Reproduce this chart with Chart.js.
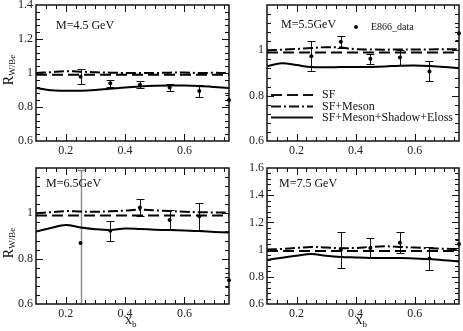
<!DOCTYPE html>
<html lang="en">
<head>
<meta charset="UTF-8">
<title>R W/Be vs x_b</title>
<script src="https://cdn.jsdelivr.net/npm/chart.js@4"></script>
<style>
  body { margin: 0; background: #fff; }
  #wrap { position: relative; width: 463px; height: 331px; }
  #wrap canvas { position: absolute; left: 0; top: 0; }
</style>
</head>
<body>
<div id="wrap">
  <canvas id="c45" width="463" height="331"></canvas>
  <canvas id="c55" width="463" height="331"></canvas>
  <canvas id="c65" width="463" height="331"></canvas>
  <canvas id="c75" width="463" height="331"></canvas>
</div>
<script>
// x grid of the model curves
const curveX = [0.1, 0.15, 0.2, 0.25, 0.3, 0.35, 0.4, 0.45, 0.5, 0.55, 0.6, 0.65, 0.7, 0.75];

// M = 4.5 GeV
const sf45    = [0.99, 0.99, 0.99, 0.99, 0.99, 0.99, 0.99, 0.99, 0.99, 0.99, 0.99, 0.99, 0.99, 0.99];
const meson45 = [1.0, 1.005, 1.01, 1.008, 1.004, 1.002, 1.0, 1.0, 1.0, 1.002, 1.003, 1.0, 1.001, 1.0];
const full45  = [0.912, 0.898, 0.896, 0.896, 0.9, 0.907, 0.915, 0.921, 0.925, 0.927, 0.926, 0.923, 0.918, 0.912];
const dataX45 = [0.25, 0.35, 0.45, 0.55, 0.65, 0.75];
const dataY45 = [0.978, 0.939, 0.931, 0.915, 0.894, 0.841];
const err45   = [0.045, 0.02, 0.02, 0.019, 0.035, 0.03];

// M = 5.5 GeV
const sf55    = [0.99, 0.99, 0.99, 0.99, 0.99, 0.99, 0.99, 0.99, 0.99, 0.99, 0.99, 0.99, 0.99, 0.99];
const meson55 = [1.0, 1.003, 1.006, 1.01, 1.014, 1.012, 1.005, 1.004, 1.003, 1.004, 1.004, 1.004, 1.005, 1.005];
const full55  = [0.93, 0.943, 0.935, 0.926, 0.925, 0.926, 0.926, 0.927, 0.929, 0.932, 0.933, 0.931, 0.927, 0.921];
const dataX55 = [0.25, 0.35, 0.45, 0.55, 0.65, 0.75];
const dataY55 = [0.974, 1.038, 0.963, 0.968, 0.907, 1.075];
const err55   = [0.066, 0.027, 0.022, 0.033, 0.044, 0.03];

// M = 6.5 GeV
const sf65    = [0.99, 0.99, 0.99, 0.99, 0.99, 0.99, 0.99, 0.99, 0.99, 0.99, 0.99, 0.99, 0.99, 0.99];
const meson65 = [1.0, 1.005, 1.01, 1.008, 1.007, 1.009, 1.012, 1.016, 1.013, 1.01, 1.007, 1.005, 1.004, 1.003];
const full65  = [0.92, 0.935, 0.949, 0.937, 0.93, 0.927, 0.933, 0.931, 0.928, 0.926, 0.924, 0.922, 0.918, 0.915];
const dataX65 = [0.25, 0.35, 0.45, 0.55, 0.65, 0.75];
const dataY65 = [0.869, 0.923, 1.026, 0.971, 0.987, 0.705];
const err65   = [0.32, 0.045, 0.037, 0.042, 0.06, 0.03];

// M = 7.5 GeV
const sf75    = [0.99, 0.99, 0.99, 0.99, 0.99, 0.99, 0.99, 0.99, 0.99, 0.99, 0.99, 0.99, 0.99, 0.99];
const meson75 = [1.0, 1.005, 1.012, 1.02, 1.015, 1.01, 1.012, 1.02, 1.024, 1.02, 1.015, 1.01, 1.006, 1.005];
const full75  = [0.924, 0.94, 0.955, 0.968, 0.955, 0.946, 0.942, 0.939, 0.939, 0.938, 0.934, 0.93, 0.922, 0.912];
const dataX75 = [0.35, 0.45, 0.55, 0.65, 0.75];
const dataY75 = [0.998, 1.012, 1.051, 0.934, 1.042];
const err75   = [0.132, 0.07, 0.075, 0.085, 0.03];

// tick labels
const xTicks = [0.2, 0.4, 0.6];
const yTicks45 = [0.6, 0.8, 1, 1.2, 1.4];
const yTicks55 = [0.6, 0.8, 1];
const yTicks65 = [0.6, 0.8, 1];
const yTicks75 = [0.6, 0.8, 1, 1.2, 1.4, 1.6];

const seriesNames = ['SF', 'SF+Meson', 'SF+Meson+Shadow+Eloss'];
const dataName = 'E866_data';

const SERIF = "'Liberation Serif', 'Times New Roman', serif";
Chart.defaults.font.family = SERIF;
Chart.defaults.font.size = 12;
Chart.defaults.color = '#222';

const dashes = [[11, 5], [10, 3, 2, 3], []];

const panels = [
  { id: 'c45', area: { l: 36, r: 229, t: 5, b: 141 }, yMin: 0.6, yMax: 1.4, yTicks: yTicks45,
    curves: [sf45, meson45, full45], px: dataX45, py: dataY45, pe: err45,
    label: 'M=4.5 GeV', labelAt: [20, 21], yTitle: 70, xTitle: false, legend: false, grayBar: -1 },
  { id: 'c55', area: { l: 267, r: 460, t: 5, b: 141 }, yMin: 0.6, yMax: 1.2, yTicks: yTicks55,
    curves: [sf55, meson55, full55], px: dataX55, py: dataY55, pe: err55,
    label: 'M=5.5GeV', labelAt: [14, 20], yTitle: null, xTitle: false, legend: true, grayBar: -1 },
  { id: 'c65', area: { l: 36, r: 229, t: 168, b: 304 }, yMin: 0.6, yMax: 1.2, yTicks: yTicks65,
    curves: [sf65, meson65, full65], px: dataX65, py: dataY65, pe: err65,
    label: 'M=6.5GeV', labelAt: [10, 16], yTitle: 243, xTitle: true, legend: false, grayBar: 0 },
  { id: 'c75', area: { l: 267, r: 460, t: 168, b: 304 }, yMin: 0.6, yMax: 1.6, yTicks: yTicks75,
    curves: [sf75, meson75, full75], px: dataX75, py: dataY75, pe: err75,
    label: 'M=7.5 GeV', labelAt: [12, 16], yTitle: null, xTitle: true, legend: false, grayBar: -1 }
];

// error bars, drawn under the curves
const errorBars = {
  id: 'errorBars',
  beforeDatasetsDraw(chart, args, opts) {
    const p = opts.panel;
    const ctx = chart.ctx, a = chart.chartArea;
    const xs = chart.scales.x, ys = chart.scales.y;
    ctx.save();
    ctx.beginPath();
    ctx.rect(a.left, a.top - 1, a.right - a.left, a.bottom - a.top + 2);
    ctx.clip();
    p.px.forEach((xv, i) => {
      const x = Math.round(xs.getPixelForValue(xv)) + 0.5;
      const y1 = Math.round(ys.getPixelForValue(p.py[i] + p.pe[i])) + 0.5;
      const y2 = Math.round(ys.getPixelForValue(p.py[i] - p.pe[i])) + 0.5;
      const gray = i === p.grayBar;
      ctx.strokeStyle = gray ? '#8a8a8a' : '#111';
      ctx.lineWidth = gray ? 1.4 : 1;
      ctx.beginPath();
      ctx.moveTo(x, y1); ctx.lineTo(x, y2);
      ctx.moveTo(x - 4, y1); ctx.lineTo(x + 4, y1);
      ctx.moveTo(x - 4, y2); ctx.lineTo(x + 4, y2);
      ctx.stroke();
    });
    ctx.restore();
  }
};

// frame, inward ticks, titles, panel label and legend
const decor = {
  id: 'decor',
  afterDraw(chart, args, opts) {
    const p = opts.panel;
    const ctx = chart.ctx, a = chart.chartArea;
    const xs = chart.scales.x, ys = chart.scales.y;
    ctx.save();
    ctx.strokeStyle = '#111';
    ctx.lineWidth = 1;
    ctx.beginPath();
    for (let k = -3; 0.2 + k * 0.2 / 6 <= 0.7501; k++) {
      const v = 0.2 + k * 0.2 / 6;
      if (v <= 0.1001 || v >= 0.7499) continue;
      const len = k % 6 === 0 ? 7 : 4;
      const x = Math.round(xs.getPixelForValue(v)) + 0.5;
      ctx.moveTo(x, a.bottom); ctx.lineTo(x, a.bottom - len);
      ctx.moveTo(x, a.top); ctx.lineTo(x, a.top + len);
    }
    for (let k = 1; p.yMin + k * 0.04 < p.yMax - 0.001; k++) {
      const v = p.yMin + k * 0.04;
      const len = k % 5 === 0 ? 7 : 4;
      const y = Math.round(ys.getPixelForValue(v)) + 0.5;
      ctx.moveTo(a.left, y); ctx.lineTo(a.left + len, y);
      ctx.moveTo(a.right, y); ctx.lineTo(a.right - len, y);
    }
    ctx.stroke();
    ctx.lineWidth = 1.5;
    ctx.strokeRect(a.left, a.top, a.right - a.left, a.bottom - a.top);

    ctx.fillStyle = '#111';
    ctx.textBaseline = 'middle';
    ctx.textAlign = 'left';
    ctx.font = '12px ' + SERIF;
    ctx.fillText(p.label, a.left + p.labelAt[0], a.top + p.labelAt[1]);

    if (p.yTitle !== null) {
      ctx.save();
      ctx.translate(9, p.yTitle);
      ctx.rotate(-Math.PI / 2);
      ctx.font = '14px ' + SERIF;
      const wR = ctx.measureText('R').width;
      ctx.font = '9px ' + SERIF;
      const wS = ctx.measureText('W/Be').width;
      const x0 = -(wR + wS) / 2;
      ctx.font = '14px ' + SERIF;
      ctx.fillText('R', x0, 0);
      ctx.font = '9px ' + SERIF;
      ctx.fillText('W/Be', x0 + wR, 4);
      ctx.restore();
    }
    if (p.xTitle) {
      const cx = (a.left + a.right) / 2 - 2;
      ctx.font = '14px ' + SERIF;
      const wx = ctx.measureText('x').width;
      ctx.fillText('x', cx - wx / 2 - 2, 320);
      ctx.font = '9px ' + SERIF;
      ctx.fillText('b', cx + wx / 2 - 2, 325);
    }
    if (p.legend) {
      const lx = a.left, ly = a.top;
      ctx.beginPath();
      ctx.arc(lx + 89, ly + 22, 2, 0, Math.PI * 2);
      ctx.fill();
      ctx.font = '10px ' + SERIF;
      ctx.fillText(dataName, lx + 104, ly + 22);
      ctx.font = '12px ' + SERIF;
      const rows = [90, 101.5, 112.5];
      ctx.lineWidth = 2;
      seriesNames.forEach((name, i) => {
        ctx.setLineDash(dashes[i]);
        ctx.beginPath();
        ctx.moveTo(lx + 4, ly + rows[i]);
        ctx.lineTo(lx + 46, ly + rows[i]);
        ctx.stroke();
        ctx.setLineDash([]);
        ctx.fillText(name, lx + 55, ly + rows[i]);
      });
    }
    ctx.restore();
  }
};

function makeChart(p) {
  const ds = p.curves.map((vals, i) => ({
    label: seriesNames[i],
    data: curveX.map((x, j) => ({ x: x, y: vals[j] })),
    borderColor: '#000',
    borderWidth: 2,
    borderDash: dashes[i],
    pointRadius: 0,
    tension: 0.35,
    fill: false
  }));
  ds.push({
    label: dataName,
    data: p.px.map((x, j) => ({ x: x, y: p.py[j] })),
    showLine: false,
    pointRadius: 2,
    pointBorderWidth: 0,
    pointBackgroundColor: '#000',
    pointBorderColor: '#000',
    clip: false
  });
  const a = p.area;
  return new Chart(document.getElementById(p.id), {
    type: 'line',
    data: { datasets: ds },
    plugins: [errorBars, decor],
    options: {
      responsive: false,
      animation: false,
      events: [],
      layout: { padding: { left: a.l - 36, right: 463 - a.r, top: a.t, bottom: 331 - a.b - 20 } },
      plugins: {
        legend: { display: false },
        tooltip: { enabled: false },
        errorBars: { panel: p },
        decor: { panel: p }
      },
      scales: {
        x: {
          type: 'linear', min: 0.1, max: 0.75,
          grid: { display: false, drawTicks: false },
          border: { display: false },
          ticks: { padding: 3, callback: v => v.toFixed(1) },
          afterBuildTicks: s => { s.ticks = xTicks.map(v => ({ value: v })); },
          afterFit: s => { s.height = 20; s.paddingLeft = 0; s.paddingRight = 0; }
        },
        y: {
          type: 'linear', min: p.yMin, max: p.yMax,
          grid: { display: false, drawTicks: false },
          border: { display: false },
          ticks: { padding: 3, callback: v => String(Math.round(v * 10) / 10) },
          afterBuildTicks: s => { s.ticks = p.yTicks.map(v => ({ value: v })); },
          afterFit: s => { s.width = 36; s.paddingTop = 0; s.paddingBottom = 0; }
        }
      }
    }
  });
}

panels.forEach(makeChart);
</script>
</body>
</html>
